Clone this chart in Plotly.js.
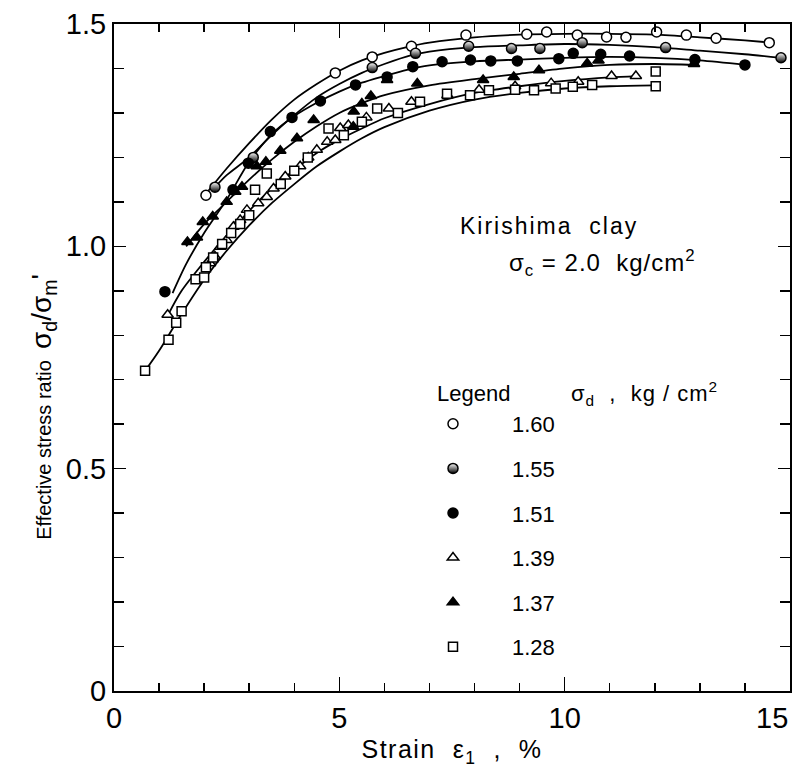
<!DOCTYPE html>
<html>
<head>
<meta charset="utf-8">
<script src="https://cdn.plot.ly/plotly-3.0.1.min.js"></script>
<style>
  html, body { margin: 0; padding: 0; background: #ffffff; }
  #chart { width: 793px; height: 770px; }
</style>
</head>
<body>
<div id="chart"></div>
<script>
// Kirishima clay, consolidation pressure 2.0 kg/cm2.
// Strain (%) against effective stress ratio, one series per deviator stress.

const legendLabels = ['1.60', '1.55', '1.51', '1.39', '1.37', '1.28'];

// measured points
const x160 = [2.04, 4.91, 5.73, 6.60, 7.81, 9.16, 9.60, 10.28, 10.93, 11.36, 12.04, 12.70, 13.36, 14.54];
const y160 = [1.115, 1.390, 1.426, 1.450, 1.475, 1.477, 1.482, 1.475, 1.471, 1.470, 1.482, 1.475, 1.468, 1.458];

const x155 = [2.24, 3.09, 5.73, 6.69, 7.87, 8.82, 9.45, 10.39, 12.24, 14.80];
const y155 = [1.133, 1.200, 1.402, 1.434, 1.450, 1.445, 1.445, 1.458, 1.447, 1.424];

const x151 = [1.13, 2.64, 2.98, 3.47, 3.95, 4.58, 5.36, 6.06, 6.63, 7.28, 7.91, 8.36, 8.95, 9.87, 10.19, 10.80, 11.44, 12.89, 14.00];
const y151 = [0.898, 1.127, 1.187, 1.258, 1.290, 1.327, 1.363, 1.381, 1.404, 1.415, 1.419, 1.417, 1.417, 1.422, 1.434, 1.432, 1.428, 1.420, 1.408];

const x139 = [1.19, 2.13, 2.24, 2.36, 2.50, 2.65, 2.80, 2.95, 3.20, 3.39, 3.54, 3.80, 4.13, 4.31, 4.50, 4.73, 4.91, 5.02, 5.20, 5.60, 6.10, 6.60, 7.40, 8.10, 8.90, 9.70, 10.30, 11.04, 11.58];
const y139 = [0.846, 0.962, 0.977, 0.999, 1.014, 1.044, 1.059, 1.082, 1.097, 1.111, 1.130, 1.157, 1.180, 1.200, 1.217, 1.235, 1.239, 1.266, 1.273, 1.290, 1.310, 1.325, 1.340, 1.352, 1.360, 1.367, 1.370, 1.383, 1.383];

const x137 = [1.63, 1.84, 1.97, 2.19, 2.50, 2.69, 2.84, 3.17, 3.37, 3.69, 4.06, 4.43, 5.31, 5.32, 5.50, 5.70, 6.06, 6.73, 8.19, 8.87, 9.43, 10.50, 10.75, 12.87];
const y137 = [1.010, 1.020, 1.055, 1.067, 1.100, 1.123, 1.134, 1.180, 1.190, 1.215, 1.243, 1.284, 1.269, 1.303, 1.321, 1.338, 1.374, 1.366, 1.374, 1.381, 1.396, 1.411, 1.418, 1.410];

const x128 = [0.69, 1.21, 1.38, 1.50, 1.81, 2.00, 2.04, 2.20, 2.40, 2.60, 2.80, 3.00, 3.13, 3.39, 3.70, 4.00, 4.30, 4.76, 5.10, 5.50, 5.84, 6.30, 6.79, 7.39, 7.90, 8.32, 8.90, 9.32, 9.80, 10.18, 10.61, 12.02, 12.02];
const y128 = [0.720, 0.790, 0.828, 0.854, 0.926, 0.930, 0.953, 0.975, 1.005, 1.030, 1.050, 1.070, 1.127, 1.164, 1.140, 1.170, 1.200, 1.265, 1.250, 1.280, 1.310, 1.300, 1.325, 1.343, 1.340, 1.351, 1.352, 1.351, 1.355, 1.359, 1.363, 1.393, 1.360];

// fitted curves through each series
const fx160 = [2.0, 2.5, 3.0, 3.5, 4.0, 4.5, 5.0, 5.5, 6.0, 6.5, 7.0, 8.0, 9.0, 10.0, 11.0, 12.0, 13.0, 14.0, 14.6];
const fy160 = [1.113, 1.175, 1.232, 1.285, 1.330, 1.365, 1.395, 1.418, 1.435, 1.448, 1.458, 1.470, 1.476, 1.478, 1.478, 1.476, 1.470, 1.463, 1.458];

const fx155 = [2.24, 2.5, 3.0, 3.5, 4.0, 4.5, 5.0, 5.5, 6.0, 6.6, 7.0, 8.0, 9.0, 10.0, 11.0, 12.0, 13.0, 14.0, 14.8];
const fy155 = [1.133, 1.160, 1.200, 1.250, 1.295, 1.335, 1.365, 1.390, 1.410, 1.430, 1.438, 1.448, 1.452, 1.455, 1.453, 1.448, 1.440, 1.432, 1.424];

const fx151 = [1.3, 1.6, 2.0, 2.5, 3.0, 3.5, 4.0, 4.5, 5.0, 5.5, 6.0, 6.5, 7.0, 8.0, 9.0, 10.0, 11.0, 12.0, 13.0, 14.0];
const fy151 = [0.895, 0.960, 1.030, 1.105, 1.190, 1.252, 1.293, 1.323, 1.348, 1.368, 1.383, 1.397, 1.407, 1.416, 1.420, 1.424, 1.426, 1.424, 1.418, 1.408];

const fx139 = [1.2, 1.5, 2.0, 2.5, 3.0, 3.5, 4.0, 4.5, 5.0, 5.5, 6.0, 7.0, 8.0, 9.0, 10.0, 11.0, 11.6];
const fy139 = [0.846, 0.900, 0.965, 1.025, 1.080, 1.130, 1.172, 1.210, 1.240, 1.265, 1.288, 1.320, 1.345, 1.360, 1.372, 1.380, 1.383];

const fx137 = [1.6, 2.0, 2.5, 3.0, 3.5, 4.0, 4.5, 5.0, 5.5, 6.0, 7.0, 8.0, 9.0, 10.0, 11.0, 12.0, 12.9];
const fy137 = [1.000, 1.050, 1.100, 1.150, 1.195, 1.235, 1.270, 1.300, 1.322, 1.340, 1.362, 1.376, 1.388, 1.400, 1.408, 1.410, 1.408];

const fx128 = [0.69, 1.0, 1.5, 2.0, 2.5, 3.0, 3.5, 4.0, 4.5, 5.0, 5.5, 6.0, 7.0, 8.0, 9.0, 10.0, 11.0, 12.0];
const fy128 = [0.720, 0.765, 0.848, 0.925, 0.990, 1.047, 1.097, 1.140, 1.180, 1.213, 1.243, 1.268, 1.305, 1.330, 1.345, 1.355, 1.360, 1.362];

// axis ticks; the label at the right-hand end is set flush to the frame below
const xTickVals = [0, 5, 10, 15];
const xTickText = ['0', '5', '10', ''];
const xEndLabel = '15';
const yTickVals = [0, 0.5, 1.0, 1.5];
const yTickText = ['0', '0.5', '1.0', '1.5'];

const FONT = 'Liberation Sans, Arial, sans-serif';
const INK = '#000000';

const curves = [[fx160, fy160], [fx155, fy155], [fx151, fy151], [fx139, fy139], [fx137, fy137], [fx128, fy128]];
const points = [[x160, y160], [x155, y155], [x151, y151], [x139, y139], [x137, y137], [x128, y128]];

// marker look for each series, in legend order
const markerStyles = [
  { symbol: 'circle', color: '#ffffff', size: 10 },
  { symbol: 'circle', color: '#ffffff', size: 10, gradient: { type: 'vertical', color: INK } },
  { symbol: 'circle', color: INK, size: 10 },
  { symbol: 'triangle-up', color: '#ffffff', size: 10 },
  { symbol: 'triangle-up', color: INK, size: 10 },
  { symbol: 'square', color: '#ffffff', size: 9 }
];

const traces = [];
curves.forEach(function (c) {
  traces.push({
    type: 'scatter', mode: 'lines', x: c[0], y: c[1],
    line: { color: INK, width: 1.8, shape: 'spline', smoothing: 0.8 },
    hoverinfo: 'skip', showlegend: false
  });
});
points.forEach(function (p, i) {
  const s = markerStyles[i];
  const marker = { symbol: s.symbol, color: s.color, size: s.size, line: { color: INK, width: 1.5 } };
  if (s.gradient) marker.gradient = s.gradient;
  traces.push({
    type: 'scatter', mode: 'markers', x: p[0], y: p[1],
    name: legendLabels[i], legendgroup: 'g' + i,
    marker: marker
  });
});

const spaced = function (txt, px) {
  return '<span style="letter-spacing:' + px + 'px">' + txt + '</span>';
};

const layout = {
  width: 793, height: 770,
  margin: { l: 114, r: 3, t: 24, b: 79 },
  paper_bgcolor: '#ffffff', plot_bgcolor: '#ffffff',
  font: { family: FONT, color: INK, size: 22 },
  showlegend: true,
  legend: {
    x: (394 - 114) / 676, xanchor: 'left',
    y: (691 - 403) / 667, yanchor: 'top',
    bgcolor: 'rgba(0,0,0,0)', borderwidth: 0,
    font: { family: FONT, size: 22, color: INK },
    itemwidth: 108, tracegroupgap: 13, traceorder: 'grouped'
  },
  xaxis: {
    range: [0, 15], showgrid: false, zeroline: false,
    showline: true, linecolor: INK, linewidth: 2, mirror: 'ticks',
    ticks: 'inside', ticklen: 14, tickwidth: 1.5, tickcolor: INK,
    tickmode: 'array', tickvals: xTickVals, ticktext: xTickText,
    tickfont: { family: FONT, size: 29, color: INK },
    minor: { dtick: 1, ticks: 'inside', ticklen: 8, tickwidth: 1.5, tickcolor: INK, showgrid: false },
    title: { text: spaced('Strain  ε<sub>1</sub>  ,  %', 1.5), font: { family: FONT, size: 25, color: INK }, standoff: 8 }
  },
  yaxis: {
    range: [0, 1.5], showgrid: false, zeroline: false,
    showline: true, linecolor: INK, linewidth: 2, mirror: 'ticks',
    ticks: 'inside', ticklen: 12, tickwidth: 1.5, tickcolor: INK,
    tickmode: 'array', tickvals: yTickVals, ticktext: yTickText,
    tickfont: { family: FONT, size: 29, color: INK },
    minor: { dtick: 0.1, ticks: 'inside', ticklen: 10, tickwidth: 1.5, tickcolor: INK, showgrid: false },
    title: { text: '' }
  },
  annotations: [
    // right-hand x tick label, kept inside the page
    { xref: 'x', yref: 'paper', x: 15, y: -27 / 667, xanchor: 'right', yanchor: 'middle', showarrow: false,
      text: xEndLabel, font: { family: FONT, size: 29, color: INK } },
    // y-axis title, centred a little below the middle of the axis
    { xref: 'paper', yref: 'y', x: (44 - 114) / 676, y: 0.639, xanchor: 'center', yanchor: 'middle',
      textangle: -90, showarrow: false,
      text: 'Effective stress ratio  <span style="font-size:28px">σ<sub>d</sub>/σ<sub>m</sub>\'</span>',
      font: { family: FONT, size: 20, color: INK } },
    { xref: 'x', yref: 'y', x: 7.64, y: 1.046, xanchor: 'left', yanchor: 'middle', showarrow: false,
      text: spaced('Kirishima  clay', 2), font: { family: FONT, size: 23, color: INK } },
    { xref: 'x', yref: 'y', x: 8.73, y: 0.962, xanchor: 'left', yanchor: 'middle', showarrow: false,
      text: spaced('σ<sub>c</sub> = 2.0  kg/cm<sup>2</sup>', 1), font: { family: FONT, size: 24, color: INK } },
    { xref: 'x', yref: 'y', x: 7.13, y: 0.67, xanchor: 'left', yanchor: 'middle', showarrow: false,
      text: 'Legend', font: { family: FONT, size: 22, color: INK } },
    { xref: 'x', yref: 'y', x: 10.09, y: 0.67, xanchor: 'left', yanchor: 'middle', showarrow: false,
      text: spaced('σ<sub>d</sub>  ,  kg / cm<sup>2</sup>', 1), font: { family: FONT, size: 22, color: INK } }
  ]
};

Plotly.newPlot('chart', traces, layout, { displayModeBar: false, staticPlot: true });
</script>
</body>
</html>
